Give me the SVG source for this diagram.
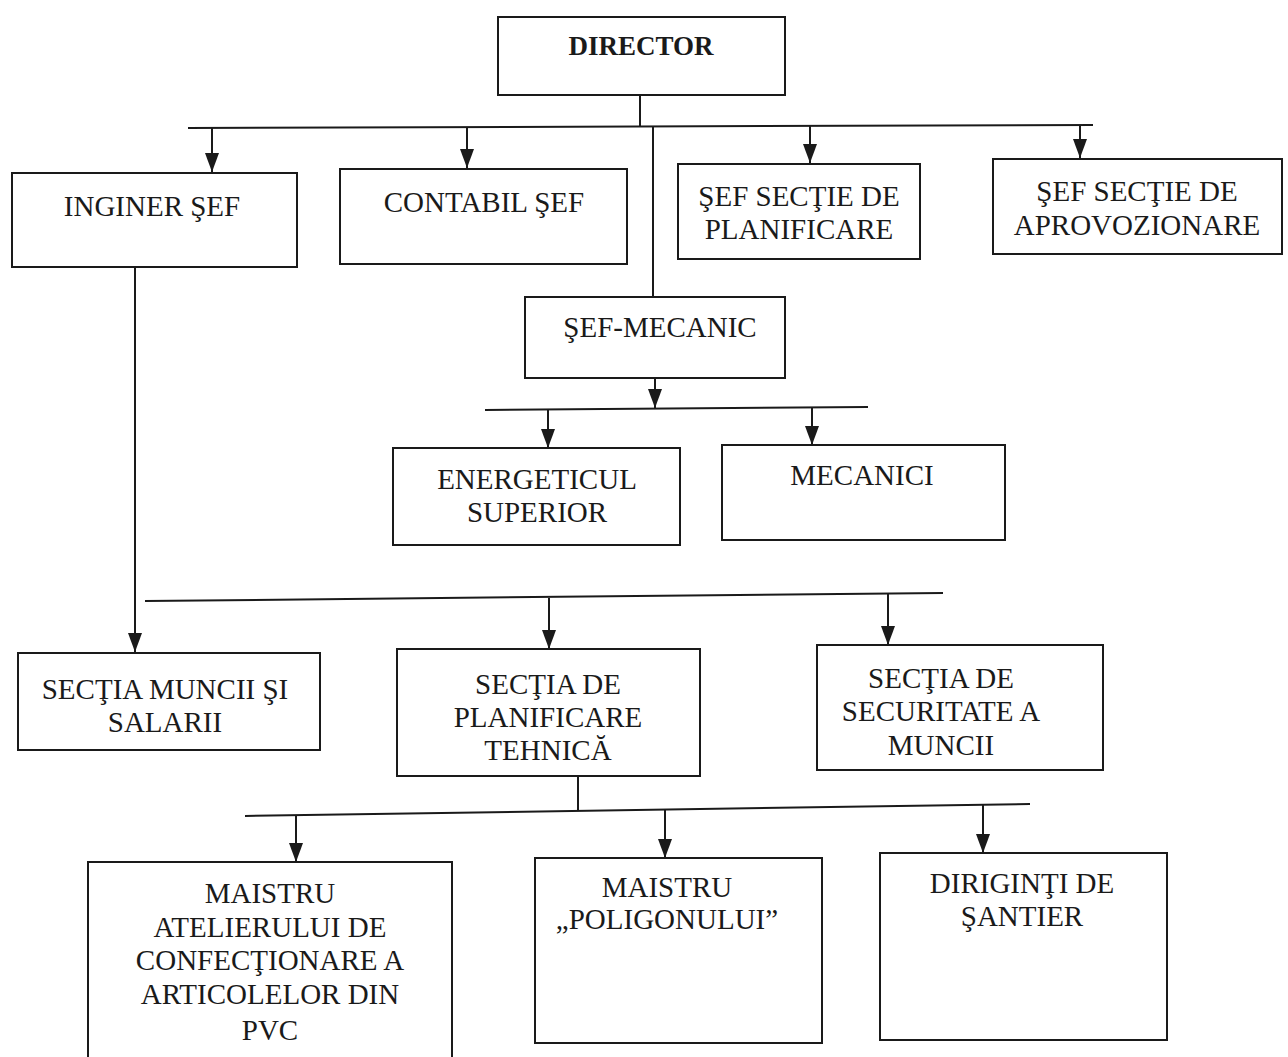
<svg xmlns="http://www.w3.org/2000/svg" width="1288" height="1057" viewBox="0 0 1288 1057">
<style>
  .box{fill:#fff;stroke:#1a1a1a;stroke-width:2}
  .t{font-family:"Liberation Serif","Times New Roman","DejaVu Serif",serif;font-size:29px;fill:#1a1a1a;text-anchor:middle}
  .b{font-weight:bold;font-size:27px}
  .ln{stroke:#1a1a1a;stroke-width:2;fill:none}
</style>
<defs>
  <marker id="ah" markerWidth="19" markerHeight="14" refX="19" refY="7" orient="auto" markerUnits="userSpaceOnUse" viewBox="0 0 19 14">
    <path d="M0,0 L19,7 L0,14 Z" fill="#1a1a1a"/>
  </marker>
</defs>
<rect width="1288" height="1057" fill="#fff"/>
<g id="connectors">
  <line class="ln" x1="640" y1="95" x2="640" y2="127"/>
  <line class="ln" x1="188" y1="128" x2="1093" y2="125"/>
  <line class="ln" x1="212" y1="128" x2="212" y2="172" marker-end="url(#ah)"/>
  <line class="ln" x1="467" y1="127" x2="467" y2="168" marker-end="url(#ah)"/>
  <line class="ln" x1="810" y1="126" x2="810" y2="163" marker-end="url(#ah)"/>
  <line class="ln" x1="1080" y1="125" x2="1080" y2="158" marker-end="url(#ah)"/>
  <line class="ln" x1="653" y1="126" x2="653" y2="297"/>
  <line class="ln" x1="655" y1="378" x2="655" y2="408" marker-end="url(#ah)"/>
  <line class="ln" x1="485" y1="410" x2="868" y2="407"/>
  <line class="ln" x1="548" y1="409" x2="548" y2="448" marker-end="url(#ah)"/>
  <line class="ln" x1="812" y1="408" x2="812" y2="445" marker-end="url(#ah)"/>
  <line class="ln" x1="135" y1="267" x2="135" y2="652" marker-end="url(#ah)"/>
  <line class="ln" x1="145" y1="601" x2="943" y2="593"/>
  <line class="ln" x1="549" y1="598" x2="549" y2="649" marker-end="url(#ah)"/>
  <line class="ln" x1="888" y1="594" x2="888" y2="645" marker-end="url(#ah)"/>
  <line class="ln" x1="578" y1="776" x2="578" y2="810"/>
  <line class="ln" x1="245" y1="816" x2="1030" y2="804"/>
  <line class="ln" x1="296" y1="815" x2="296" y2="862" marker-end="url(#ah)"/>
  <line class="ln" x1="665" y1="810" x2="665" y2="858" marker-end="url(#ah)"/>
  <line class="ln" x1="983" y1="805" x2="983" y2="853" marker-end="url(#ah)"/>
</g>
<g id="director">
  <rect class="box" x="498" y="17" width="287" height="78"/>
  <text class="t b" x="641" y="55">DIRECTOR</text>
</g>
<g id="inginer-sef">
  <rect class="box" x="12" y="173" width="285" height="94"/>
  <text class="t" x="152" y="216">INGINER ŞEF</text>
</g>
<g id="contabil-sef">
  <rect class="box" x="340" y="169" width="287" height="95"/>
  <text class="t" x="484" y="212">CONTABIL ŞEF</text>
</g>
<g id="sef-planificare">
  <rect class="box" x="678" y="164" width="242" height="95"/>
  <text class="t" x="799" y="206">ŞEF SECŢIE DE</text>
  <text class="t" x="799" y="239">PLANIFICARE</text>
</g>
<g id="sef-aprovizionare">
  <rect class="box" x="993" y="159" width="289" height="95"/>
  <text class="t" x="1137" y="201">ŞEF SECŢIE DE</text>
  <text class="t" x="1137" y="235">APROVOZIONARE</text>
</g>
<g id="sef-mecanic">
  <rect class="box" x="525" y="297" width="260" height="81"/>
  <text class="t" x="660" y="337">ŞEF-MECANIC</text>
</g>
<g id="energeticul">
  <rect class="box" x="393" y="448" width="287" height="97"/>
  <text class="t" x="537" y="489">ENERGETICUL</text>
  <text class="t" x="537" y="522">SUPERIOR</text>
</g>
<g id="mecanici">
  <rect class="box" x="722" y="445" width="283" height="95"/>
  <text class="t" x="862" y="485">MECANICI</text>
</g>
<g id="sectia-muncii">
  <rect class="box" x="18" y="653" width="302" height="97"/>
  <text class="t" x="165" y="699">SECŢIA MUNCII ŞI</text>
  <text class="t" x="165" y="732">SALARII</text>
</g>
<g id="sectia-planificare-tehnica">
  <rect class="box" x="397" y="649" width="303" height="127"/>
  <text class="t" x="548" y="694">SECŢIA DE</text>
  <text class="t" x="548" y="727">PLANIFICARE</text>
  <text class="t" x="548" y="760">TEHNICĂ</text>
</g>
<g id="sectia-securitate">
  <rect class="box" x="817" y="645" width="286" height="125"/>
  <text class="t" x="941" y="688">SECŢIA DE</text>
  <text class="t" x="941" y="721">SECURITATE A</text>
  <text class="t" x="941" y="755">MUNCII</text>
</g>
<g id="maistru-atelier">
  <rect class="box" x="88" y="862" width="364" height="200"/>
  <text class="t" x="270" y="903">MAISTRU</text>
  <text class="t" x="270" y="937">ATELIERULUI DE</text>
  <text class="t" x="270" y="970">CONFECŢIONARE A</text>
  <text class="t" x="270" y="1004">ARTICOLELOR DIN</text>
  <text class="t" x="270" y="1040">PVC</text>
</g>
<g id="maistru-poligon">
  <rect class="box" x="535" y="858" width="287" height="185"/>
  <text class="t" x="667" y="897">MAISTRU</text>
  <text class="t" x="667" y="929">„POLIGONULUI”</text>
</g>
<g id="diriginti">
  <rect class="box" x="880" y="853" width="287" height="187"/>
  <text class="t" x="1022" y="893">DIRIGINŢI DE</text>
  <text class="t" x="1022" y="926">ŞANTIER</text>
</g>
</svg>
